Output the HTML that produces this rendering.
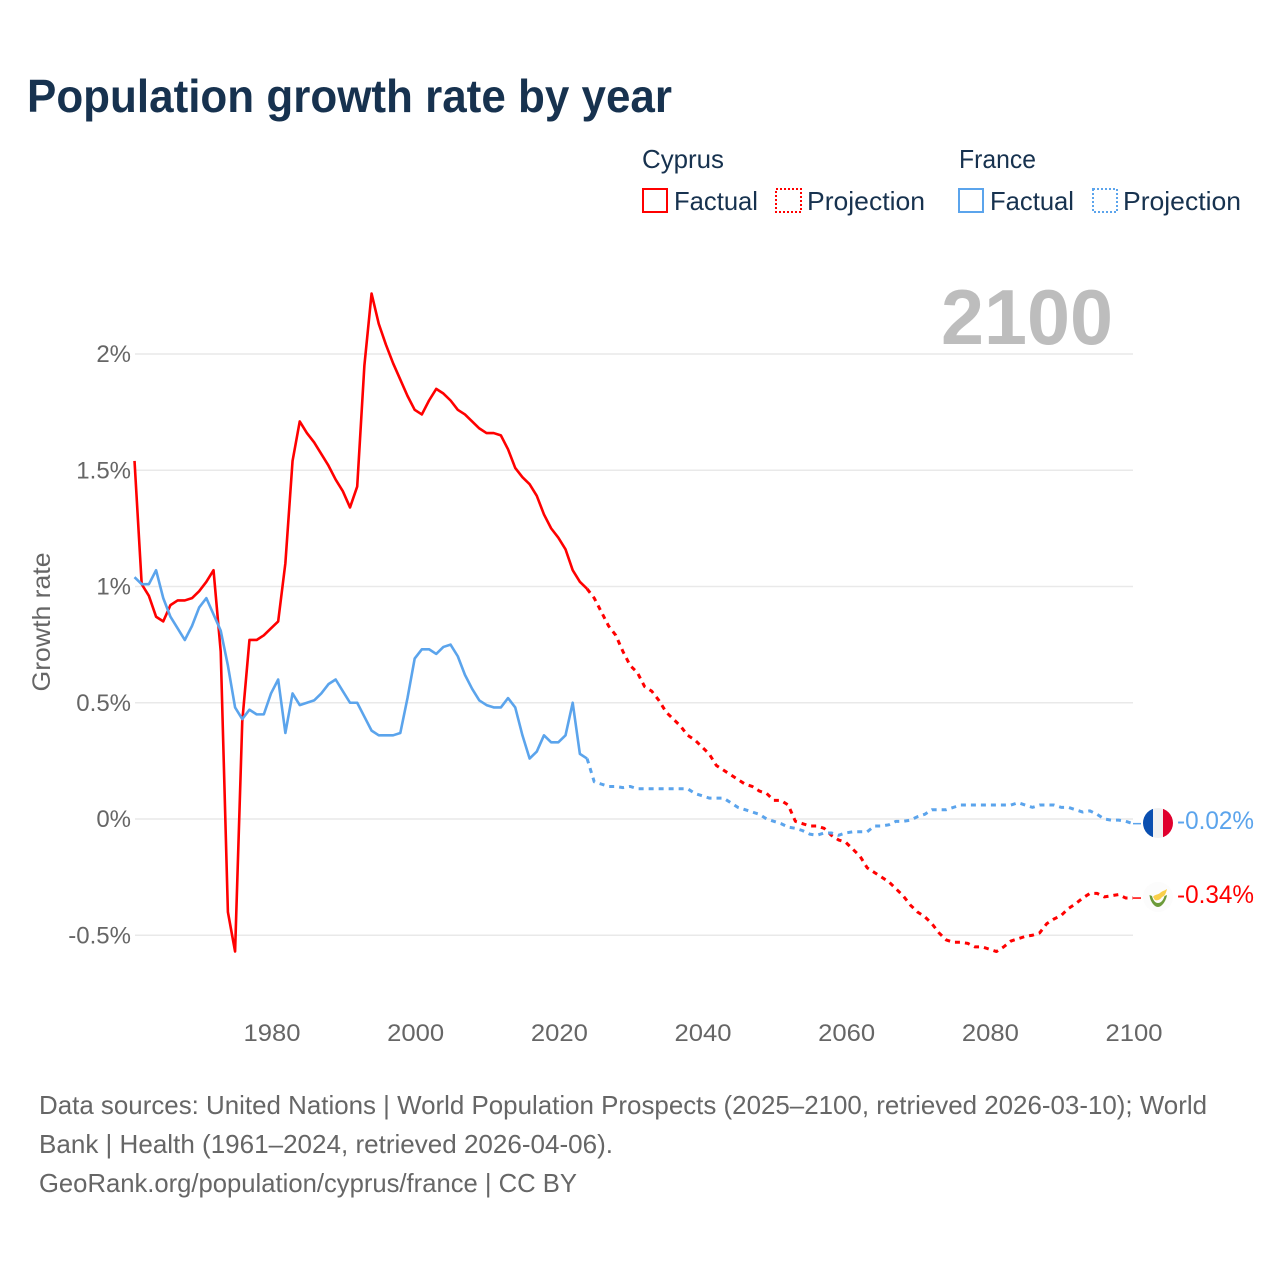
<!DOCTYPE html>
<html lang="en">
<head>
<meta charset="utf-8">
<title>Population growth rate by year</title>
<style>
html,body{margin:0;padding:0;background:#fff;}
svg{display:block;font-family:"Liberation Sans",sans-serif;}
</style>
</head>
<body>
<svg id="chart" xmlns="http://www.w3.org/2000/svg" width="1280" height="1280" viewBox="0 0 1280 1280">
  <rect x="0" y="0" width="1280" height="1280" fill="#fff"/>
  <text x="27" y="112" font-size="46" font-weight="700" fill="#17324f" textLength="645" lengthAdjust="spacingAndGlyphs">Population growth rate by year</text>

  <g font-size="26" fill="#17324f">
    <text x="642" y="168" textLength="82" lengthAdjust="spacingAndGlyphs">Cyprus</text>
    <rect x="643" y="189" width="24" height="23" fill="none" stroke="#ff0000" stroke-width="2"/>
    <text x="674" y="210" textLength="84" lengthAdjust="spacingAndGlyphs">Factual</text>
    <rect x="776" y="189" width="25" height="23" fill="none" stroke="#ff0000" stroke-width="2" stroke-dasharray="2 2"/>
    <text x="807" y="210" textLength="118" lengthAdjust="spacingAndGlyphs">Projection</text>
    <text x="959" y="168" textLength="77" lengthAdjust="spacingAndGlyphs">France</text>
    <rect x="959" y="189" width="24" height="23" fill="none" stroke="#5ba4ec" stroke-width="2"/>
    <text x="990" y="210" textLength="84" lengthAdjust="spacingAndGlyphs">Factual</text>
    <rect x="1093" y="189" width="24" height="23" fill="none" stroke="#5ba4ec" stroke-width="2" stroke-dasharray="2 2"/>
    <text x="1123" y="210" textLength="118" lengthAdjust="spacingAndGlyphs">Projection</text>
  </g>

  <g id="grid"></g>
  <g id="yticks" font-size="24" fill="#666" text-anchor="end"></g>
  <g id="xticks" font-size="24" fill="#666" text-anchor="middle"></g>
  <text transform="translate(50,622) rotate(-90)" text-anchor="middle" font-size="25" fill="#666" textLength="139" lengthAdjust="spacingAndGlyphs">Growth rate</text>
  <text x="941" y="344" font-size="78" font-weight="700" fill="#bdbdbd" textLength="172" lengthAdjust="spacingAndGlyphs">2100</text>

  <g id="series"></g>

  <g>
    <clipPath id="clip-fr"><circle cx="1158" cy="823" r="15"/></clipPath>
    <g clip-path="url(#clip-fr)">
      <rect x="1143" y="808" width="10" height="30" fill="#0a4fb0"/>
      <rect x="1153" y="808" width="10" height="30" fill="#f1f1f1"/>
      <rect x="1163" y="808" width="10" height="30" fill="#e0002d"/>
    </g>
  </g>
  <g>
    <circle cx="1158" cy="897" r="15" fill="#fcfcfc"/>
    <path d="M1153 897 C1155 894 1158 895 1160 893 C1162 891 1164 891 1167 889 C1166 893 1165 896 1162 897 C1160 900 1157 901 1155 900 C1154 899 1154 898 1153 897 Z" fill="#f9cf4a"/>
    <path d="M1149.500 895 C1150 901 1154 907 1158 907 C1162 907 1166 901 1167 895 L1164.500 896 C1163.500 900 1161 903 1158 903 C1155 903 1153 900 1152 896 Z" fill="#6c9b3a"/>
  </g>
  <text x="1177" y="829" font-size="25" fill="#5ba4ec" textLength="77" lengthAdjust="spacingAndGlyphs">-0.02%</text>
  <text x="1177" y="903" font-size="25" fill="#ff0000" textLength="77" lengthAdjust="spacingAndGlyphs">-0.34%</text>

  <g font-size="26" fill="#666">
    <text x="39" y="1114" textLength="1168" lengthAdjust="spacingAndGlyphs">Data sources: United Nations | World Population Prospects (2025–2100, retrieved 2026-03-10); World</text>
    <text x="39" y="1153" textLength="574" lengthAdjust="spacingAndGlyphs">Bank | Health (1961–2024, retrieved 2026-04-06).</text>
    <text x="39" y="1192" textLength="538" lengthAdjust="spacingAndGlyphs">GeoRank.org/population/cyprus/france | CC BY</text>
  </g>
</svg>
<script>
const startYear = 1961;
const yTickValues = [-0.5, 0, 0.5, 1, 1.5, 2];
const yTickLabels = ["-0.5%", "0%", "0.5%", "1%", "1.5%", "2%"];
const xTickYears = [1980, 2000, 2020, 2040, 2060, 2080, 2100];
const cyprusFactual = [1.54,1.01,0.96,0.87,0.85,0.92,0.94,0.94,0.95,0.98,1.02,1.07,0.72,-0.40,-0.57,0.42,0.77,0.77,0.79,0.82,0.85,1.10,1.54,1.71,1.66,1.62,1.57,1.52,1.46,1.41,1.34,1.43,1.95,2.26,2.13,2.04,1.96,1.89,1.82,1.76,1.74,1.80,1.85,1.83,1.80,1.76,1.74,1.71,1.68,1.66,1.66,1.65,1.59,1.51,1.47,1.44,1.39,1.31,1.25,1.21,1.16,1.07,1.02,0.99];
const cyprusProjection = [0.95,0.89,0.83,0.79,0.72,0.66,0.63,0.57,0.55,0.51,0.46,0.43,0.40,0.36,0.34,0.31,0.28,0.23,0.21,0.19,0.17,0.15,0.14,0.12,0.11,0.08,0.08,0.06,-0.01,-0.02,-0.03,-0.03,-0.04,-0.07,-0.09,-0.10,-0.13,-0.16,-0.21,-0.23,-0.25,-0.27,-0.30,-0.33,-0.37,-0.40,-0.42,-0.45,-0.49,-0.52,-0.53,-0.53,-0.535,-0.55,-0.55,-0.56,-0.57,-0.55,-0.525,-0.515,-0.505,-0.50,-0.49,-0.45,-0.43,-0.415,-0.385,-0.365,-0.34,-0.32,-0.32,-0.335,-0.33,-0.325,-0.34,-0.34];
const franceFactual = [1.04,1.01,1.01,1.07,0.95,0.87,0.82,0.77,0.83,0.91,0.95,0.88,0.81,0.66,0.48,0.43,0.47,0.45,0.45,0.54,0.60,0.37,0.54,0.49,0.50,0.51,0.54,0.58,0.60,0.55,0.50,0.50,0.44,0.38,0.36,0.36,0.36,0.37,0.52,0.69,0.73,0.73,0.71,0.74,0.75,0.70,0.62,0.56,0.51,0.49,0.48,0.48,0.52,0.48,0.36,0.26,0.29,0.36,0.33,0.33,0.36,0.50,0.28,0.26];
const franceProjection = [0.16,0.15,0.14,0.14,0.135,0.14,0.13,0.13,0.13,0.13,0.13,0.13,0.13,0.13,0.11,0.10,0.09,0.09,0.09,0.07,0.05,0.04,0.03,0.02,0.00,-0.01,-0.02,-0.035,-0.04,-0.05,-0.065,-0.07,-0.06,-0.06,-0.07,-0.06,-0.055,-0.055,-0.055,-0.03,-0.03,-0.025,-0.01,-0.01,-0.005,0.01,0.02,0.04,0.04,0.04,0.05,0.06,0.06,0.06,0.06,0.06,0.06,0.06,0.06,0.07,0.06,0.05,0.06,0.06,0.06,0.05,0.05,0.04,0.03,0.035,0.02,0.00,-0.005,-0.005,-0.01,-0.02];
const cyprusEndValue = -0.34;
const franceEndValue = -0.02;

const NS = 'http://www.w3.org/2000/svg';
function tickX(year) { return 272 + (year - 1980) * (1134 - 272) / 120; }
function xScale(year) { return tickX(year) - 1; }
function yScale(v) { return 819 - v * 232.5; }
function pathFrom(values, firstYear) {
  return values.map(function (v, i) {
    return (i ? 'L' : 'M') + xScale(firstYear + i).toFixed(2) + ' ' + yScale(v).toFixed(2);
  }).join(' ');
}

const gridGroup = document.getElementById('grid');
const yGroup = document.getElementById('yticks');
yTickValues.forEach(function (v, i) {
  const line = document.createElementNS(NS, 'line');
  
  
  line.setAttribute('x1', 135);
  line.setAttribute('x2', 1133);
  line.setAttribute('y1', yScale(v));
  line.setAttribute('y2', yScale(v));
  line.setAttribute('stroke', '#e9e9e9');
  line.setAttribute('stroke-width', 1.5);
  gridGroup.appendChild(line);
  const t = document.createElementNS(NS, 'text');
  
  
  t.setAttribute('x', 131);
  t.setAttribute('y', yScale(v) + 8);
  t.textContent = yTickLabels[i];
  yGroup.appendChild(t);
});

const xGroup = document.getElementById('xticks');
xTickYears.forEach(function (year) {
  const t = document.createElementNS(NS, 'text');
  
  
  t.setAttribute('x', tickX(year));
  t.setAttribute('y', 1041);
  t.setAttribute('textLength', 57);
  t.setAttribute('lengthAdjust', 'spacingAndGlyphs');
  t.textContent = year;
  xGroup.appendChild(t);
});

const seriesGroup = document.getElementById('series');
function addLine(name, d, color, dash, width) {
  const p = document.createElementNS(NS, 'path');
  
  
  p.setAttribute('d', d);
  p.setAttribute('fill', 'none');
  p.setAttribute('stroke', color);
  p.setAttribute('stroke-width', width);
  p.setAttribute('stroke-linejoin', 'round');
  if (dash) p.setAttribute('stroke-dasharray', dash);
  seriesGroup.appendChild(p);
}
const factualEndYear = startYear + cyprusFactual.length - 1;
const BLUE = '#5ba4ec';
const RED = '#ff0000';
addLine('cyprus-factual-line', pathFrom(cyprusFactual, startYear), RED, null, 2.6);
addLine('france-factual-line', pathFrom(franceFactual, startYear), BLUE, null, 2.6);
addLine('cyprus-projection-line', pathFrom([cyprusFactual[cyprusFactual.length - 1]].concat(cyprusProjection), factualEndYear), RED, '5 5', 3);
addLine('france-projection-line', pathFrom([franceFactual[franceFactual.length - 1]].concat(franceProjection), factualEndYear), BLUE, '5 5', 3);
addLine('cyprus-end-connector', 'M' + xScale(2100) + ' ' + yScale(cyprusEndValue) + ' L1141 ' + yScale(cyprusEndValue), RED, null, 1.5);
addLine('france-end-connector', 'M' + xScale(2100) + ' ' + yScale(franceEndValue) + ' L1141 ' + yScale(franceEndValue), BLUE, null, 1.5);
</script>
</body>
</html>
